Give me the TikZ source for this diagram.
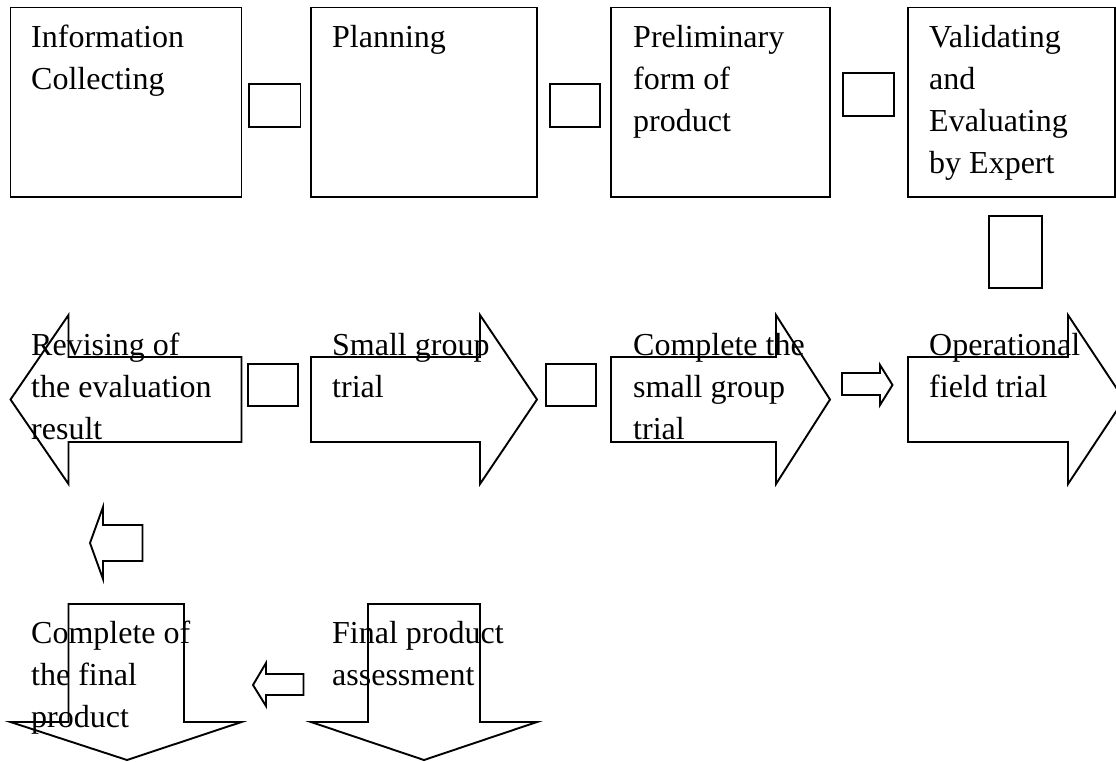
\documentclass[tikz,border=0pt]{standalone}
\usepackage{fontspec}
\setmainfont{Liberation Serif}
\begin{document}
\begin{tikzpicture}[x=1pt,y=-1pt,
  shp/.style={draw=black,line width=1.9pt,line join=miter,fill=white},
  lbl/.style={anchor=north west,inner sep=0pt,align=left,
    font=\fontsize{32}{42}\selectfont}]
\useasboundingbox (0,0) rectangle (1116,761);
\clip (0,0) rectangle (1116,761);
% top row boxes
\draw[shp] (10.5,7.5) rectangle (241.5,197);
\draw[shp] (249,84) rectangle (300.5,127);
\draw[shp] (311,7.5) rectangle (537,197);
\draw[shp] (550,84) rectangle (600,127);
\draw[shp] (611,7.5) rectangle (830,197);
\draw[shp] (843,73) rectangle (894,116);
\draw[shp] (908,7.5) rectangle (1115,197);
% vertical connector box
\draw[shp] (989,216) rectangle (1042,288);
% row 2 arrows
\draw[shp] (10.5,399.5) -- (68.5,315) -- (68.5,357) -- (241.5,357) -- (241.5,442) -- (68.5,442) -- (68.5,484) -- cycle;
\draw[shp] (248,364) rectangle (298,406);
\draw[shp] (311,357) -- (480,357) -- (480,315) -- (537,399.5) -- (480,484) -- (480,442) -- (311,442) -- cycle;
\draw[shp] (546,364) rectangle (596,406);
\draw[shp] (611,357) -- (776,357) -- (776,315) -- (830,399.5) -- (776,484) -- (776,442) -- (611,442) -- cycle;
\draw[shp] (842,373) -- (880,373) -- (880,365) -- (892.5,385) -- (880,405) -- (880,395) -- (842,395) -- cycle;
\draw[shp] (908,357) -- (1068,357) -- (1068,315) -- (1124,399.5) -- (1068,484) -- (1068,442) -- (908,442) -- cycle;
% row 3
\draw[shp] (90,543) -- (103,507) -- (103,525) -- (142.5,525) -- (142.5,561) -- (103,561) -- (103,579) -- cycle;
\draw[shp] (68.5,604) -- (184,604) -- (184,722) -- (241.5,722) -- (127,760) -- (10.5,722) -- (68.5,722) -- cycle;
\draw[shp] (368,604) -- (480,604) -- (480,722) -- (537,722) -- (424,760) -- (311,722) -- (368,722) -- cycle;
\draw[shp] (253,685) -- (266,663) -- (266,674) -- (303.5,674) -- (303.5,695) -- (266,695) -- (266,706) -- cycle;
% labels
\node[lbl] (t1) at (31,15) {\rule{0pt}{32pt}Information\\Collecting};
\node[lbl] (t2) at (332,15) {\rule{0pt}{32pt}Planning};
\node[lbl] (t3) at (633,15) {\rule{0pt}{32pt}Preliminary\\form of\\product};
\node[lbl] (t4) at (929,15) {\rule{0pt}{32pt}Validating\\and\\Evaluating\\by Expert};
\node[lbl] (t5) at (31,323) {\rule{0pt}{32pt}Revising of\\the evaluation\\result};
\node[lbl] (t6) at (332,323) {\rule{0pt}{32pt}Small group\\trial};
\node[lbl] (t7) at (633,323) {\rule{0pt}{32pt}Complete the\\small group\\trial};
\node[lbl] (t8) at (929,323) {\rule{0pt}{32pt}Operational\\field trial};
\node[lbl] (t9) at (31,611) {\rule{0pt}{32pt}Complete of\\the final\\product};
\node[lbl] (t10) at (332,611) {\rule{0pt}{32pt}Final product\\assessment};
\end{tikzpicture}
\end{document}
